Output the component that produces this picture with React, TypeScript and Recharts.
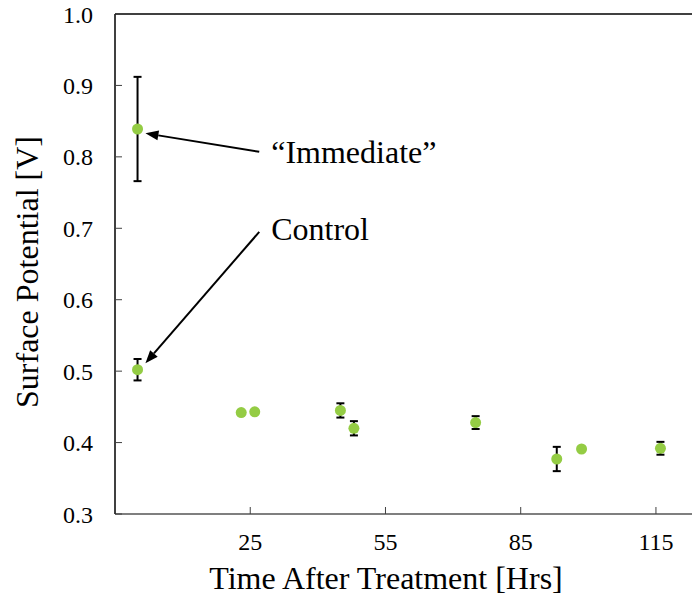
import React from 'react';
import { ScatterChart, Scatter, XAxis, YAxis, ErrorBar, ReferenceLine, ReferenceDot } from 'recharts';

const timesWithError = [0, 0, 45, 48, 75, 93, 116];
const potentialsWithError = [0.839, 0.502, 0.445, 0.42, 0.428, 0.377, 0.392];
const errorsWithError = [0.073, 0.015, 0.01, 0.01, 0.009, 0.017, 0.009];
const timesNoError = [23, 26, 98.5];
const potentialsNoError = [0.442, 0.443, 0.391];

const xTicks = [25, 55, 85, 115];
const yTicks = [0.3, 0.4, 0.5, 0.6, 0.7, 0.8, 0.9, 1.0];

const annotationLabels = ['\u201CImmediate\u201D', 'Control'];
const annotationTextX = [29.65, 29.65];
const annotationTextY = [0.791, 0.684];
const arrowFrom = [{ x: 27, y: 0.807 }, { x: 27, y: 0.695 }];
const arrowTo = [{ x: 1.75, y: 0.833 }, { x: 1.75, y: 0.511 }];

const withErr = timesWithError.map((t, i) => ({ x: t, y: potentialsWithError[i], err: errorsWithError[i] }));
const noErr = timesNoError.map((t, i) => ({ x: t, y: potentialsNoError[i] }));

const GREEN = '#94CC44';
const FONT = 'Liberation Serif, Times New Roman, Times, DejaVu Serif, serif';

const Dot = (props: any) => <circle cx={props.cx} cy={props.cy} r={5.5} fill={GREEN} />;

const Arrow = (props: any) => {
  const { x1, y1, x2, y2 } = props;
  if ([x1, y1, x2, y2].some((v) => v == null || isNaN(v))) return null;
  const dx = x2 - x1;
  const dy = y2 - y1;
  const len = Math.sqrt(dx * dx + dy * dy);
  const ux = dx / len;
  const uy = dy / len;
  const hl = 13;
  const hw = 5;
  const bx = x2 - ux * hl;
  const by = y2 - uy * hl;
  const px = -uy;
  const py = ux;
  return (
    <g>
      <line x1={x1} y1={y1} x2={bx} y2={by} stroke="#000" strokeWidth={2} />
      <polygon
        points={`${x2},${y2} ${bx + px * hw},${by + py * hw} ${bx - px * hw},${by - py * hw}`}
        fill="#000"
      />
    </g>
  );
};

const tickStyle = { fill: '#000', fontSize: 24, fontFamily: FONT, style: { fontFamily: FONT } };

export default function App() {
  return (
    <div style={{ position: 'absolute', left: 0, top: 0, fontFamily: FONT }}>
      <ScatterChart width={693} height={603} margin={{ top: 14, right: 1, bottom: 0, left: 0 }} style={{ fontFamily: FONT }}>
        <XAxis
          type="number"
          dataKey="x"
          domain={[-5, 123]}
          ticks={xTicks}
          allowDataOverflow
          height={89}
          tickSize={-7}
          tickMargin={26}
          axisLine={{ stroke: '#7f7f7f', strokeWidth: 2 }}
          tickLine={{ stroke: '#404040', strokeWidth: 1 }}
          tick={tickStyle}
          label={{
            content: () => (
              <text x={386} y={589} textAnchor="middle" fill="#000" fontSize={32} style={{ fontFamily: FONT }}>
                Time After Treatment [Hrs]
              </text>
            ),
          }}
        />
        <YAxis
          type="number"
          dataKey="y"
          domain={[0.3, 1.0]}
          ticks={yTicks}
          allowDataOverflow
          width={115}
          tickSize={-7}
          tickMargin={29}
          tickFormatter={(v: number) => v.toFixed(1)}
          axisLine={{ stroke: '#000', strokeWidth: 1.5 }}
          tickLine={{ stroke: '#404040', strokeWidth: 1 }}
          tick={tickStyle}
          label={{
            content: () => (
              <text
                x={38}
                y={272}
                transform="rotate(-90 38 272)"
                textAnchor="middle"
                fill="#000"
                fontSize={32}
                style={{ fontFamily: FONT }}
              >
                Surface Potential [V]
              </text>
            ),
          }}
        />
        <ReferenceLine y={1.0} stroke="#000" strokeWidth={1.5} />
        <Scatter data={withErr} isAnimationActive={false} shape={Dot}>
          <ErrorBar dataKey="err" direction="y" width={4} stroke="#000" strokeWidth={2} />
        </Scatter>
        <Scatter data={noErr} isAnimationActive={false} shape={Dot} />
        {arrowFrom.map((f, i) => (
          <ReferenceLine
            key={'arr' + i}
            segment={[f, arrowTo[i]]}
            stroke="#000"
            shape={Arrow}
            ifOverflow="visible"
          />
        ))}
        {annotationLabels.map((lab, i) => (
          <ReferenceDot
            key={'lab' + i}
            x={annotationTextX[i]}
            y={annotationTextY[i]}
            r={0}
            fill="none"
            stroke="none"
            ifOverflow="visible"
            label={{
              content: (p: any) => {
                const vb = p.viewBox || {};
                return (
                  <text x={vb.x} y={vb.y} textAnchor="start" fill="#000" fontSize={32} style={{ fontFamily: FONT }}>
                    {lab}
                  </text>
                );
              },
            }}
          />
        ))}
      </ScatterChart>
    </div>
  );
}
